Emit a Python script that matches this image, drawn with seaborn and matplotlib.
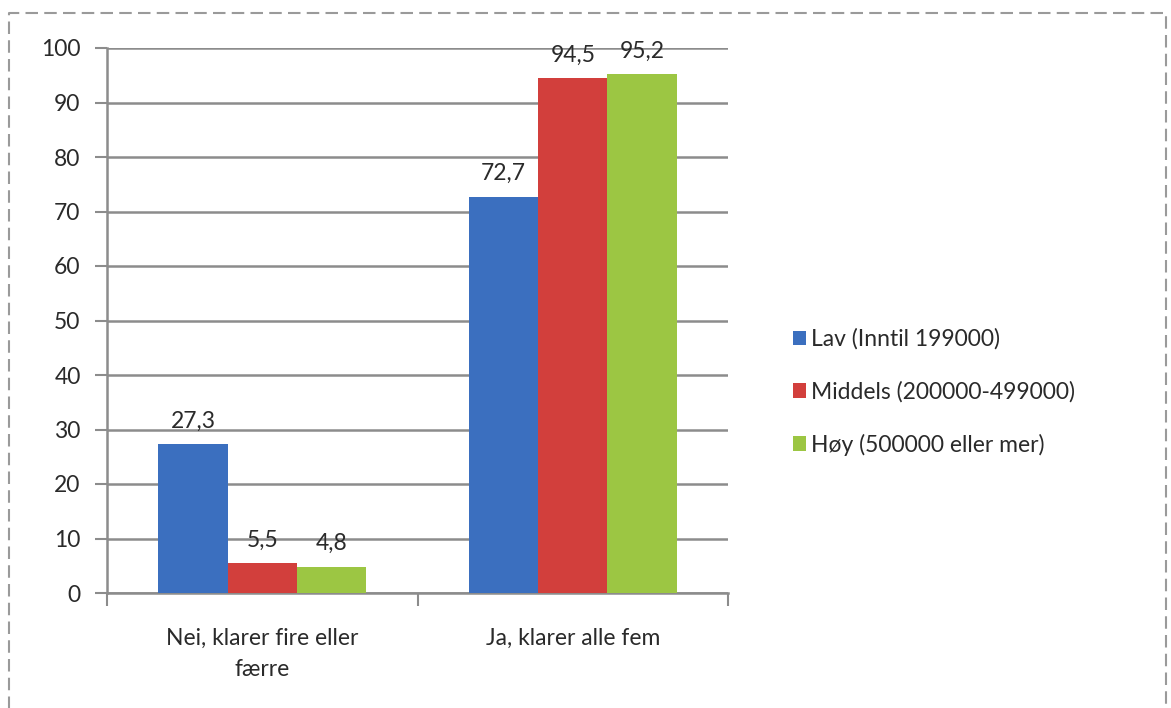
import numpy as np
import pandas as pd
import seaborn as sns
import matplotlib.pyplot as plt
from matplotlib.lines import Line2D

categories = ["Nei, klarer fire eller\nfærre", "Ja, klarer alle fem"]
groups = ["Lav (Inntil 199000)", "Middels (200000-499000)", "Høy (500000 eller mer)"]
lav = [27.3, 72.7]
middels = [5.5, 94.5]
hoy = [4.8, 95.2]
yticks = list(range(0, 101, 10))

df = pd.DataFrame({
    "kategori": categories * 3,
    "gruppe": [groups[0]] * 2 + [groups[1]] * 2 + [groups[2]] * 2,
    "verdi": lav + middels + hoy,
})

sns.set_style("white")
plt.rcParams['font.family'] = ['Lato', 'DejaVu Sans']
plt.rcParams['text.color'] = "#2a2a2a"
plt.rcParams['xtick.color'] = "#2a2a2a"
plt.rcParams['ytick.color'] = "#2a2a2a"
colors = ["#3b6fbf", "#d23f3c", "#9cc643"]
fs = 16.5

fig = plt.figure(figsize=(11.71, 7.08), dpi=100)
ax = fig.add_axes([107 / 1171, 1 - 593 / 708, (728 - 107) / 1171, (593 - 48) / 708])

sns.barplot(data=df, x="kategori", y="verdi", hue="gruppe", hue_order=groups,
            palette=colors, width=0.67, ax=ax, saturation=1, linewidth=0, zorder=3)

for c in ax.containers:
    ax.bar_label(c, labels=[f"{v:.1f}".replace(".", ",") for v in c.datavalues],
                 padding=9, fontsize=fs)

ax.set_xlim(-0.5, 1.5)
ax.set_ylim(0, 100)
ax.set_yticks(yticks)
ax.yaxis.grid(True, color="#8c8c8c", linewidth=1.8, zorder=0)
ax.set_axisbelow(True)
ax.set_xlabel("")
ax.set_ylabel("")
ax.tick_params(axis="y", labelsize=fs, length=9, width=1.5, color="#8c8c8c", left=True, pad=10)
ax.set_xticks([0, 1])
ax.set_xticklabels(categories, fontsize=fs, linespacing=1.6)
ax.tick_params(axis="x", length=0, pad=25)
# category boundary ticks
ax.set_xticks([-0.5, 0.5, 1.5], minor=True)
ax.tick_params(axis="x", which="minor", length=9, width=1.5, color="#8c8c8c", bottom=True)
for s in ["top", "right"]:
    ax.spines[s].set_visible(False)
for s in ["left", "bottom"]:
    ax.spines[s].set_color("#8c8c8c")
    ax.spines[s].set_linewidth(1.8)

ax.legend(loc="center left", bbox_to_anchor=(772 / 1171, 1 - 392 / 708), bbox_transform=fig.transFigure,
          frameon=False, fontsize=fs, handlelength=0.6, handleheight=0.6, handletextpad=0.2,
          labelspacing=1.35)

# dashed frame (bottom edge falls outside the image)
bx = [9 / 1171, 9 / 1171, 1166 / 1171, 1166 / 1171]
by = [-0.01, 1 - 13 / 708, 1 - 13 / 708, -0.01]
fig.add_artist(Line2D(bx, by, transform=fig.transFigure, color="#9a9a9a",
                      linestyle=(0, (6, 3)), linewidth=1.5))

fig.savefig("out.png", dpi=100)
